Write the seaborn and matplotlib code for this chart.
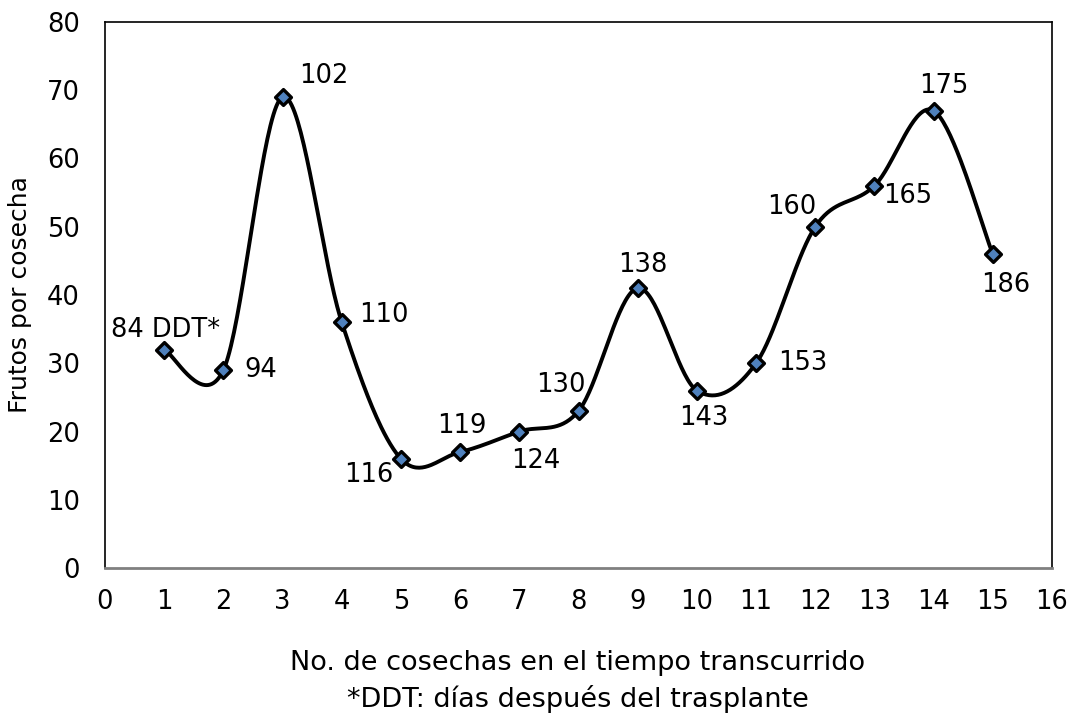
import numpy as np
import pandas as pd
import matplotlib
matplotlib.use("Agg")
import matplotlib.pyplot as plt
import seaborn as sns

cosecha = [1, 2, 3, 4, 5, 6, 7, 8, 9, 10, 11, 12, 13, 14, 15]
frutos = [32, 29, 69, 36, 16, 17, 20, 23, 41, 26, 30, 50, 56, 67, 46]
etiquetas = ["84 DDT*", "94", "102", "110", "116", "119", "124", "130",
             "138", "143", "153", "160", "165", "175", "186"]
# label offsets in points (dx, dy)
offsets = [(1, 14), (27, 0), (30, 15), (30, 5), (-23, -12), (1, 19), (12, -21),
           (-13, 19), (4, 17), (5, -20), (34, 0), (-17, 14), (24, -7), (7, 18), (9, -22)]

sns.set_style("white")
plt.rcParams['font.family'] = ['DejaVu Sans']
plt.rcParams['text.color'] = 'black'

fig = plt.figure(figsize=(10.71, 7.23), dpi=100)
ax = fig.add_axes([105/1071, 155/723, (1052-105)/1071, (568-22)/723])

# Excel-style smoothed line (Catmull-Rom Bezier)
x = np.array(cosecha, dtype=float)
y = np.array(frutos, dtype=float)
px, py = [], []
n = len(x)
for i in range(n - 1):
    p0 = np.array([x[max(i-1, 0)], y[max(i-1, 0)]])
    p1 = np.array([x[i], y[i]])
    p2 = np.array([x[i+1], y[i+1]])
    p3 = np.array([x[min(i+2, n-1)], y[min(i+2, n-1)]])
    c1 = p1 + (p2 - p0) / 6.0
    c2 = p2 - (p3 - p1) / 6.0
    t = np.linspace(0, 1, 40)[:, None]
    pts = (1-t)**3 * p1 + 3*(1-t)**2*t*c1 + 3*(1-t)*t**2*c2 + t**3*p2
    px.extend(pts[:, 0]); py.extend(pts[:, 1])
curve = pd.DataFrame({"x": px, "y": py})
sns.lineplot(data=curve, x="x", y="y", ax=ax, color="black", linewidth=2.8,
             sort=False, estimator=None)

df = pd.DataFrame({"cosecha": cosecha, "frutos": frutos})
sns.scatterplot(data=df, x="cosecha", y="frutos", ax=ax, marker="D", s=65,
                color="#4F81BD", edgecolor="black", linewidth=2.4, zorder=5)

for xi, yi, lab, (dx, dy) in zip(cosecha, frutos, etiquetas, offsets):
    ax.annotate(lab, (xi, yi), xytext=(dx, dy), textcoords="offset points",
                ha="center", va="center", fontsize=18.5, color="black")

ax.set_xlim(0, 16)
ax.set_ylim(0, 80)
ax.set_xticks(range(0, 17))
ax.set_yticks(range(0, 81, 10))
ax.tick_params(axis="x", labelsize=18.5, length=0, pad=15, colors="black")
ax.tick_params(axis="y", labelsize=18.5, length=0, pad=18, colors="black")
ax.set_xlabel("")
ax.set_ylabel("Frutos por cosecha", fontsize=18, color="black")
ax.yaxis.set_label_coords((32 - 105) / 947, 0.5)
for s in ax.spines.values():
    s.set_visible(True)
    s.set_color("black")
    s.set_linewidth(1.2)
ax.spines["bottom"].set_color("#808080")
ax.spines["bottom"].set_linewidth(2)

fig.text(578/1071, 1 - 663/723, "No. de cosechas en el tiempo transcurrido",
         ha="center", va="center", fontsize=19.5, color="black")
fig.text(578/1071, 1 - 699/723, "*DDT: días después del trasplante",
         ha="center", va="center", fontsize=19.5, color="black")

fig.savefig("out.png", dpi=100)
